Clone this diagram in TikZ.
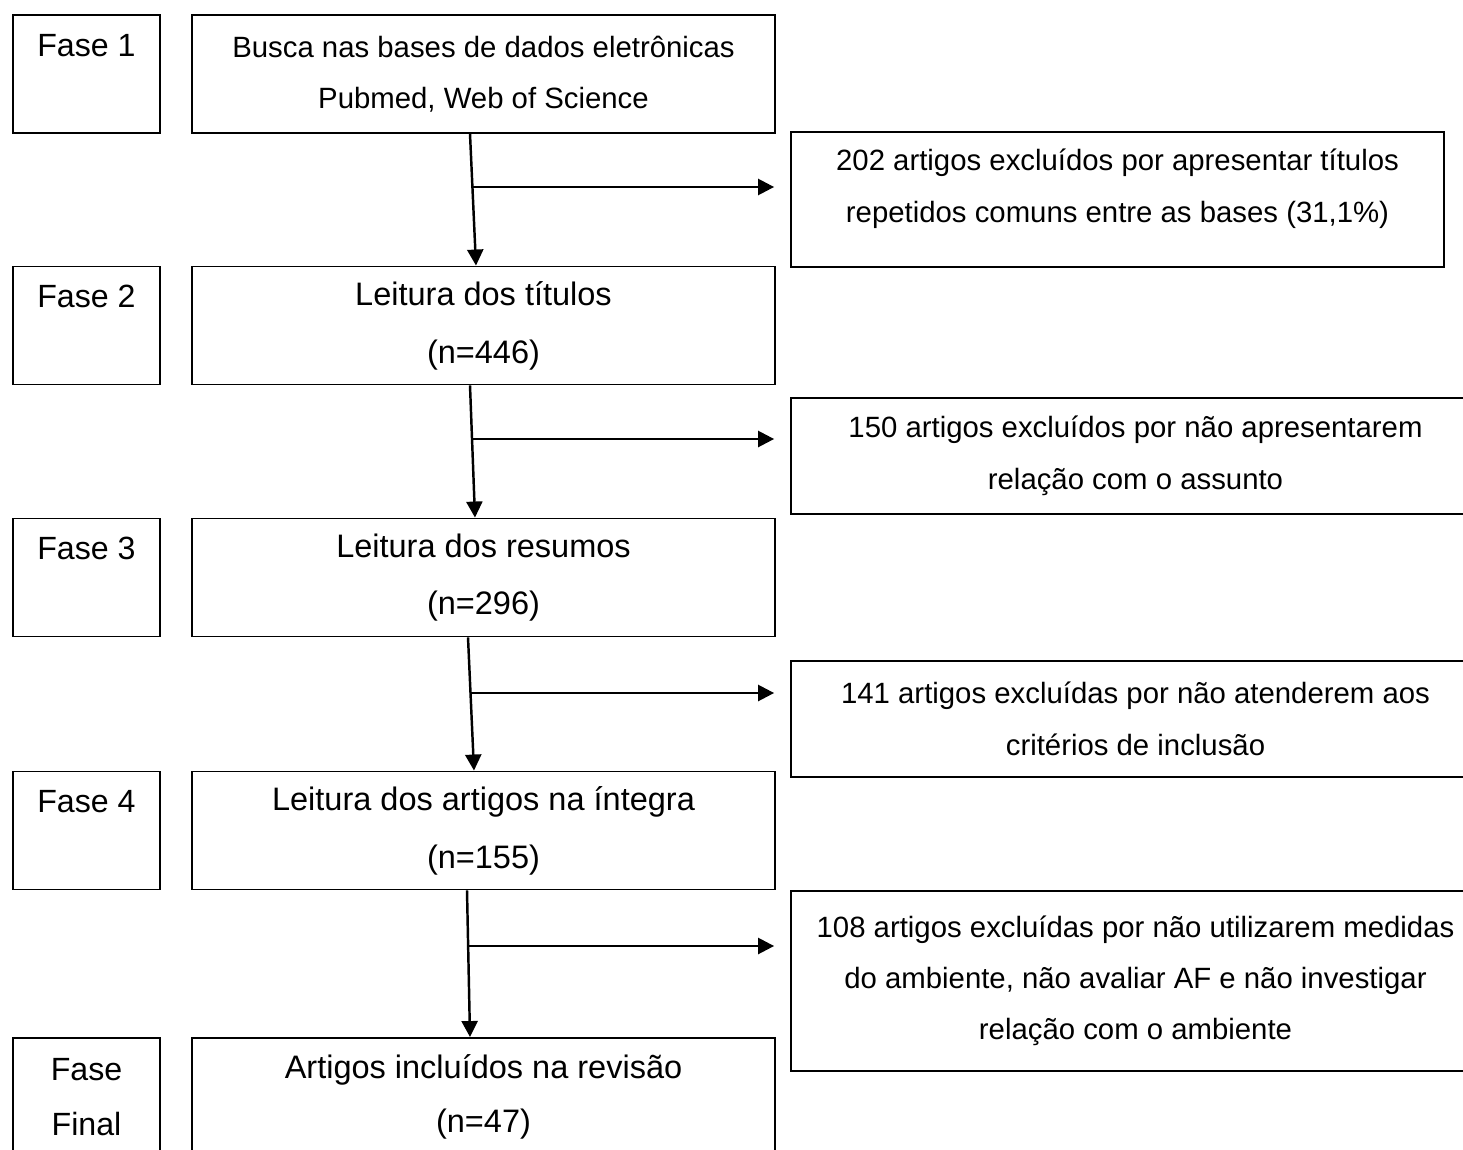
\documentclass[tikz,border=0pt]{standalone}
\usepackage{fontspec}
\setmainfont{Liberation Sans}
\usetikzlibrary{arrows.meta}
\begin{document}
\begin{tikzpicture}[x=0.02cm,y=-0.02cm,
	caixa/.style={draw,line width=1.1pt,align=center,inner sep=0pt,font=\fontsize{16.7}{29.5}\selectfont},
	fase/.style={caixa,minimum width=2.94cm,minimum height=2.36cm,font=\fontsize{18.3}{32.9}\selectfont},
	etapa/.style={caixa,minimum width=11.66cm,minimum height=2.36cm,font=\fontsize{18.5}{32.9}\selectfont},
	exclusao/.style={caixa,minimum width=13.78cm,minimum height=2.32cm},
	seta/.style={line width=1.4pt,-{Triangle[length=0.32cm,width=0.32cm]}}]
	\useasboundingbox (0,0) rectangle (1463,1149);
	\clip (0,0) rectangle (1463,1149);
	% fases
	\node[fase] (f1) at (86.5,74) {Fase 1\\~};
	\node[fase] (f2) at (86.5,325.5) {Fase 2\\~};
	\node[fase] (f3) at (86.5,577.5) {Fase 3\\~};
	\node[fase] (f4) at (86.5,830.5) {Fase 4\\~};
	\node[fase,font=\fontsize{18.3}{31}\selectfont] (f5) at (86.5,1097) {Fase\\Final};
	% etapas
	\node[etapa,font=\fontsize{16.7}{29}\selectfont] (busca) at (483.5,74) {Busca nas bases de dados eletrônicas\\Pubmed, Web of Science};
	\node[etapa] (titulos) at (483.5,325.5) {Leitura dos títulos\\(n=446)};
	\node[etapa] (resumos) at (483.5,577.5) {Leitura dos resumos\\(n=296)};
	\node[etapa] (integra) at (483.5,830.5) {Leitura dos artigos na íntegra\\(n=155)};
	\node[etapa,font=\fontsize{18.5}{31}\selectfont] (incluidos) at (483.5,1097) {Artigos incluídos na revisão\\(n=47)};
	% exclusoes
	\node[exclusao,minimum width=13.06cm,minimum height=2.7cm] (ex1) at (1117.5,199.5) {202 artigos excluídos por apresentar títulos\\repetidos comuns entre as bases (31,1\%)\\[-14pt]\mbox{}};
	\node[exclusao] (ex2) at (1135.5,456) {150 artigos excluídos por não apresentarem\\relação com o assunto};
	\node[exclusao] (ex3) at (1135.5,719) {141 artigos excluídas por não atenderem aos\\critérios de inclusão};
	\node[exclusao,minimum height=3.6cm,font=\fontsize{16.7}{28.9}\selectfont] (ex4) at (1135.5,981) {108 artigos excluídas por não utilizarem medidas\\do ambiente, não avaliar AF e não investigar\\relação com o ambiente};
	% setas
	\draw[seta] ([xshift=-0.27cm]busca.south) -- ([xshift=-0.15cm]titulos.north);
	\draw[seta] ([xshift=-0.27cm]titulos.south) -- ([xshift=-0.17cm]resumos.north);
	\draw[seta] ([xshift=-0.31cm]resumos.south) -- ([xshift=-0.19cm]integra.north);
	\draw[seta] ([xshift=-0.33cm]integra.south) -- ([xshift=-0.27cm]incluidos.north);
	\coordinate (r1) at (471,187);
	\coordinate (r2) at (471,439);
	\coordinate (r3) at (470,693);
	\coordinate (r4) at (469,946);
	\draw[seta,shorten >=0.32cm] (r1) -- (r1 -| ex1.west);
	\draw[seta,shorten >=0.32cm] (r2) -- (r2 -| ex2.west);
	\draw[seta,shorten >=0.32cm] (r3) -- (r3 -| ex3.west);
	\draw[seta,shorten >=0.32cm] (r4) -- (r4 -| ex4.west);
\end{tikzpicture}
\end{document}
